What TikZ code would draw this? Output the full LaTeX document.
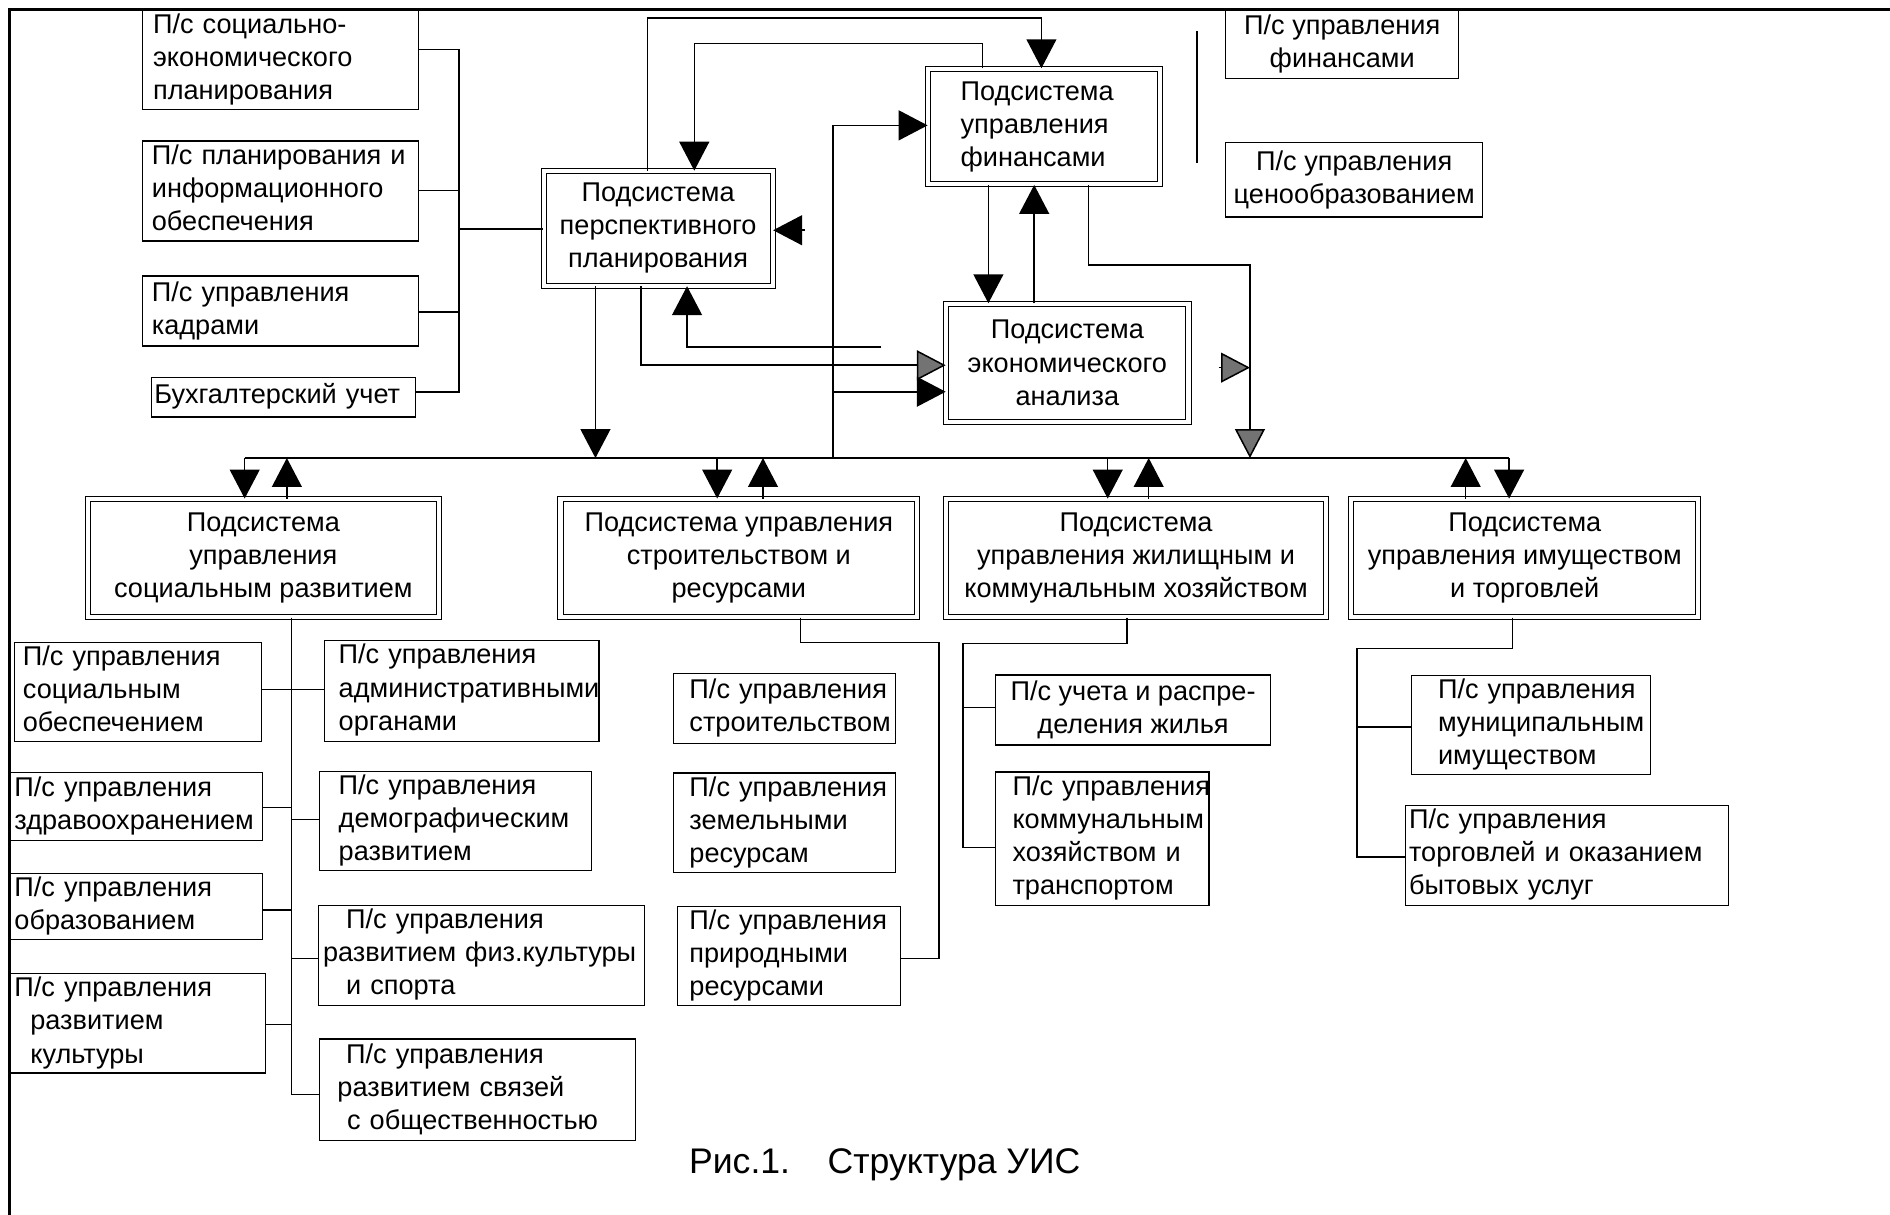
\documentclass[tikz,border=0pt]{standalone}
\usepackage{fontspec}
\setmainfont{Liberation Sans}
\usetikzlibrary{arrows.meta}

\tikzset{
 box/.style={draw, line width=0.7pt, inner sep=0pt, font=\fontsize{16pt}{19.5pt}\selectfont},
 cbox/.style={box, align=center},
 lbox/.style={box},
 dbl/.style={double, double distance=2.4pt, line width=0.6pt},
 conn/.style={line width=0.9pt},
 arr/.style={conn, -{Triangle[length=0.6cm,width=0.62cm]}},
 arrg/.style={conn, -{Triangle[length=0.6cm,width=0.62cm,fill=black!55]}},
 frame/.style={line width=1.6pt},
}

\newcommand{\bxc}[7][]{%
  \pgfmathsetmacro{\myW}{(#5-#3)*0.025}%
  \pgfmathsetmacro{\myH}{(#6-#4)*0.025}%
  \node[cbox,minimum width=\myW cm,minimum height=\myH cm,#1] (#2) at ({(#3+#5)/2},{(#4+#6)/2}) {#7};%
}
\newcommand{\bxl}[8][]{%
  \pgfmathsetmacro{\myW}{(#5-#3)*0.025}%
  \pgfmathsetmacro{\myH}{(#6-#4)*0.025}%
  \pgfmathsetmacro{\myP}{#7*0.025}%
  \node[lbox,text width=\myW cm,minimum height=\myH cm,#1] (#2) at ({(#3+#5)/2},{(#4+#6)/2}) {\parindent=0pt\hspace*{\myP cm}\begin{tabular}{@{}l@{}}#8\end{tabular}\hfill\null};%
}

\begin{document}
\begin{tikzpicture}[x=0.025cm,y=-0.025cm]
\useasboundingbox (0,0) rectangle (1568,1008);

% frame
\draw[frame] (8,1008) -- (8,8) -- (1568,8);

% top-left boxes
\bxl{A1}{118}{12}{347}{87}{9}{П/с социально-\\экономического\\планирования}
\bxl{A2}{118}{117}{347}{200}{8}{П/с планирования и\\информационного\\обеспечения}
\bxl{A3}{118}{229}{347}{287}{8}{П/с управления\\кадрами}
\bxl{A4}{126}{313}{345}{346}{2}{Бухгалтерский учет}

% central boxes
\bxc[dbl]{PP}{451}{142}{641}{237}{Подсистема\\перспективного\\планирования}
\bxl[dbl]{fin}{770}{57}{962}{153}{27}{Подсистема\\управления\\финансами}
\bxc[dbl]{ea}{785}{252}{986}{350}{Подсистема\\экономического\\анализа}

% right top boxes
\bxc{R1}{1017}{8}{1210}{65}{П/с управления\\финансами}
\bxc{R2}{1017}{118}{1230}{180}{П/с управления\\ценообразованием}

% level-2 boxes
\bxc[dbl]{sr}{73}{414}{364}{512}{Подсистема\\управления\\социальным развитием}
\bxc[dbl]{str}{465}{414}{761}{512}{Подсистема управления\\строительством и\\ресурсами}
\bxc[dbl]{zhkh}{785}{414}{1100}{512}{Подсистема\\управления жилищным и\\коммунальным хозяйством}
\bxc[dbl]{it}{1121}{414}{1409}{512}{Подсистема\\управления имуществом\\и торговлей}

% under social development
\bxl{S1}{12}{534}{217}{614}{7}{П/с управления\\социальным\\обеспечением}
\bxl{S2}{9}{641}{218}{697}{3}{П/с управления\\здравоохранением}
\bxl{S3}{9}{726}{218}{778}{3}{П/с управления\\образованием}
\bxl{S4}{9}{809}{220}{889}{3}{П/с управления\\\hspace*{0.33cm}развитием\\\hspace*{0.33cm}культуры}
\bxl{S5}{269}{533}{497}{614}{12}{П/с управления\\административными\\органами}
\bxl{S6}{265}{642}{491}{720}{16}{П/с управления\\демографическим\\развитием}
\bxl{S7}{264}{751}{535}{834}{4}{\hspace*{0.48cm}П/с управления\\развитием физ.культуры\\\hspace*{0.48cm}и спорта}
\bxl{S8}{265}{862}{527}{946}{15}{\hspace*{0.18cm}П/с управления\\развитием связей\\\hspace*{0.2cm}с общественностью}

% under construction
\bxl{T1}{559}{559}{743}{617}{13}{П/с управления\\строительством}
\bxl{T2}{559}{642}{743}{723}{13}{П/с управления\\земельными\\ресурсам}
\bxl{T3}{562}{752}{747}{834}{10}{П/с управления\\природными\\ресурсами}

% under housing
\bxc{J1}{826}{560}{1054}{618}{П/с учета и распре-\\деления жилья}
\bxl{J2}{826}{643}{1003}{749}{14}{П/с управления\\коммунальным\\хозяйством и\\транспортом}

% under property
\bxl{K1}{1171}{562}{1369}{641}{22}{П/с управления\\муниципальным\\имуществом}
\bxl{K2}{1166}{668}{1434}{751}{3}{П/с управления\\торговлей и оказанием\\бытовых услуг}

% caption
\node[font=\fontsize{21pt}{25pt}\selectfont] (cap) at (734,966) {Рис.1.\hspace{0.78cm}Структура УИС};

% ---- connectors ----
% left bracket
\coordinate (br1) at (381,41);
\coordinate (br2) at (381,158);
\coordinate (br3) at (381,259);
\coordinate (br4) at (381,325);
\coordinate (brm) at (381,190);
\draw[conn] (br1 -| A1.east) -- (br1) -- (br4) -- (br4 -| A4.east);
\draw[conn] (br2 -| A2.east) -- (br2);
\draw[conn] (br3 -| A3.east) -- (br3);
\draw[conn] (brm) -- (brm -| PP.west);

% PP -> fin over the top
\coordinate (t1) at (537,15);
\coordinate (t2) at (864,15);
\draw[arr] (t1 |- PP.north) -- (t1) -- (t2) -- (t2 |- fin.north);
% fin -> PP
\coordinate (t3) at (815,36);
\coordinate (t4) at (576,36);
\draw[arr] (t3 |- fin.north) -- (t3) -- (t4) -- (t4 |- PP.north);

% bus
\coordinate (b1) at (203,380);
\coordinate (b2) at (238,380);
\coordinate (b3) at (595,380);
\coordinate (b4) at (633,380);
\coordinate (b5) at (919,380);
\coordinate (b6) at (953,380);
\coordinate (b7) at (1216,380);
\coordinate (b8) at (1252,380);
\draw[conn] (b1) -- (b8);
\draw[arr] (b1) -- (b1 |- sr.north);
\draw[arr] (b2 |- sr.north) -- (b2);
\draw[arr] (b3) -- (b3 |- str.north);
\draw[arr] (b4 |- str.north) -- (b4);
\draw[arr] (b5) -- (b5 |- zhkh.north);
\draw[arr] (b6 |- zhkh.north) -- (b6);
\draw[arr] (b7 |- it.north) -- (b7);
\draw[arr] (b8) -- (b8 |- it.north);

% PP down to bus
\coordinate (pd) at (494,380);
\draw[arr] (pd |- PP.south) -- (pd);

% vertical from bus to fin and ea
\coordinate (v1) at (691,380);
\coordinate (v2) at (691,104);
\coordinate (v3) at (691,325);
\draw[arr] (v1) -- (v2) -- (v2 -| fin.west);
\draw[arr] (v3) -- (v3 -| ea.west);

% arrowhead into PP right side
\coordinate (pa) at (668,191);
\draw[arr] (pa) -- (pa -| PP.east);

% PP -> ea
\coordinate (p1) at (532,303);
\draw[arrg] (p1 |- PP.south) -- (p1) -- (p1 -| ea.west);
% ea -> PP
\coordinate (p2) at (731,288);
\coordinate (p3) at (570,288);
\draw[arr] (p2) -- (p3) -- (p3 |- PP.south);

% fin <-> ea
\coordinate (f1) at (820,200);
\coordinate (f2) at (858,200);
\draw[arr] (f1 |- fin.south) -- (f1 |- ea.north);
\draw[arr] (f2 |- ea.north) -- (f2 |- fin.south);

% fin -> bus
\coordinate (f3) at (903,220);
\coordinate (f4) at (1037,220);
\coordinate (f5) at (1037,380);
\draw[arrg] (f3 |- fin.south) -- (f3) -- (f4) -- (f5);
\coordinate (e1) at (1011,305);
\draw[arrg] (e1) -- (e1 -| f4);

% right vertical
\coordinate (q1) at (993,26);
\coordinate (q2) at (993,135);
\draw[conn] (q1) -- (q2);

% social development tree
\coordinate (s0) at (242,908);
\coordinate (s1) at (242,572);
\coordinate (s2) at (242,670);
\coordinate (s3) at (242,680);
\coordinate (s4) at (242,755);
\coordinate (s5) at (242,795);
\coordinate (s6) at (242,850);
\draw[conn] (s0 |- sr.south) -- (s0) -- (s0 -| S8.west);
\draw[conn] (s1 -| S1.east) -- (s1 -| S5.west);
\draw[conn] (s2 -| S2.east) -- (s2);
\draw[conn] (s3) -- (s3 -| S6.west);
\draw[conn] (s4 -| S3.east) -- (s4);
\draw[conn] (s5) -- (s5 -| S7.west);
\draw[conn] (s6 -| S4.east) -- (s6);

% construction tree
\coordinate (c0) at (664,533);
\coordinate (c1) at (779,533);
\coordinate (c2) at (779,795);
\draw[conn] (c0 |- str.south) -- (c0) -- (c1) -- (c2) -- (c2 -| T3.east);

% housing tree
\coordinate (j0) at (935,534);
\coordinate (j1) at (799,534);
\coordinate (j2) at (799,703);
\coordinate (j3) at (799,587);
\draw[conn] (j0 |- zhkh.south) -- (j0) -- (j1) -- (j2) -- (j2 -| J2.west);
\draw[conn] (j3) -- (j3 -| J1.west);

% property tree
\coordinate (k0) at (1255,538);
\coordinate (k1) at (1126,538);
\coordinate (k2) at (1126,711);
\coordinate (k3) at (1126,603);
\draw[conn] (k0 |- it.south) -- (k0) -- (k1) -- (k2) -- (k2 -| K2.west);
\draw[conn] (k3) -- (k3 -| K1.west);

\end{tikzpicture}
\end{document}
